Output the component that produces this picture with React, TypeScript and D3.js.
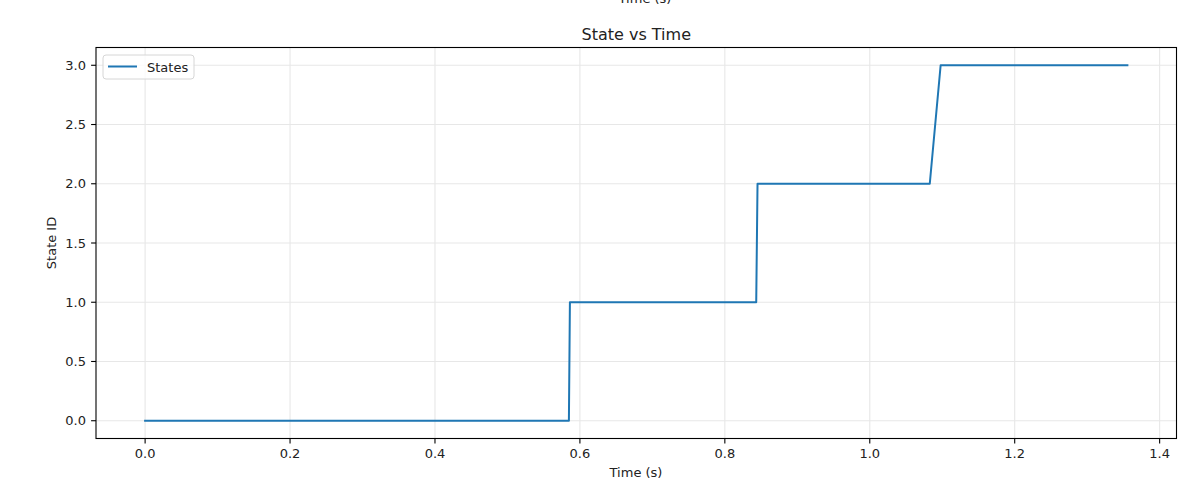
import React from "react";
import * as d3 from "d3";

const times = [0, 0.5848, 0.5862, 0.8433, 0.8451, 1.0828, 1.0978, 1.3555];
const states = [0, 0, 1, 1, 2, 2, 3, 3];
const xTicks = [0, 0.2, 0.4, 0.6, 0.8, 1.0, 1.2, 1.4];
const yTicks = [0, 0.5, 1.0, 1.5, 2.0, 2.5, 3.0];

const W = 1202;
const H = 492;
const L = 96, R = 1176.5, T = 47.5, B = 438.5;
const FONT = "DejaVu Sans, sans-serif";

export default function App() {
  const xMax = d3.max(times) as number;
  const xPad = xMax * 0.05;
  const x = d3.scaleLinear().domain([0 - xPad, xMax + xPad]).range([L, R]);
  const yPad = 3 * 0.05;
  const y = d3.scaleLinear().domain([0 - yPad, 3 + yPad]).range([B, T]);
  const pts: [number, number][] = times.map((t, i) => [t, states[i]]);
  const line = d3.line<[number, number]>().x(d => x(d[0])).y(d => y(d[1]));
  const grid = "#e7e7e7";
  return (
    <svg width={W} height={H} style={{ position: "absolute", left: 0, top: 0, background: "#fff" }} fontFamily={FONT}>
      <rect x={0} y={0} width={W} height={H} fill="#fff" />
      <text x={645} y={2.5} fontSize={13} textAnchor="middle" fill="#222">Time (s)</text>
      {xTicks.map(t => (
        <line key={"gx" + t} x1={x(t)} x2={x(t)} y1={T} y2={B} stroke={grid} strokeWidth={1.1} />
      ))}
      {yTicks.map(t => (
        <line key={"gy" + t} x1={L} x2={R} y1={y(t)} y2={y(t)} stroke={grid} strokeWidth={1.1} />
      ))}
      <path d={line(pts) || ""} fill="none" stroke="#1f77b4" strokeWidth={2} strokeLinejoin="round" strokeLinecap="square" />
      <rect x={L} y={T} width={R - L} height={B - T} fill="none" stroke="#000" strokeWidth={1.1} />
      {xTicks.map(t => (
        <g key={"tx" + t}>
          <line x1={x(t)} x2={x(t)} y1={B} y2={B + 4.9} stroke="#000" strokeWidth={1.1} />
          <text x={x(t)} y={457.5} fontSize={13} textAnchor="middle" fill="#222">{d3.format(".1f")(t)}</text>
        </g>
      ))}
      {yTicks.map(t => (
        <g key={"ty" + t}>
          <line x1={L - 4.9} x2={L} y1={y(t)} y2={y(t)} stroke="#000" strokeWidth={1.1} />
          <text x={86} y={y(t)} dy="0.36em" fontSize={13} textAnchor="end" fill="#222">{d3.format(".1f")(t)}</text>
        </g>
      ))}
      <text x={636} y={477} fontSize={13} textAnchor="middle" fill="#222">Time (s)</text>
      <text transform={`translate(56,${(T + B) / 2}) rotate(-90)`} fontSize={13} textAnchor="middle" fill="#222">State ID</text>
      <text x={(L + R) / 2} y={40} fontSize={16} textAnchor="middle" fill="#222">State vs Time</text>
      <g>
        <rect x={103} y={55} width={91} height={24} rx={3} fill="#fff" fillOpacity={0.8} stroke="#d6d6d6" strokeWidth={1} />
        <line x1={108} x2={137} y1={66.5} y2={66.5} stroke="#1f77b4" strokeWidth={2} />
        <text x={147} y={71.5} fontSize={13} fill="#222">States</text>
      </g>
    </svg>
  );
}
